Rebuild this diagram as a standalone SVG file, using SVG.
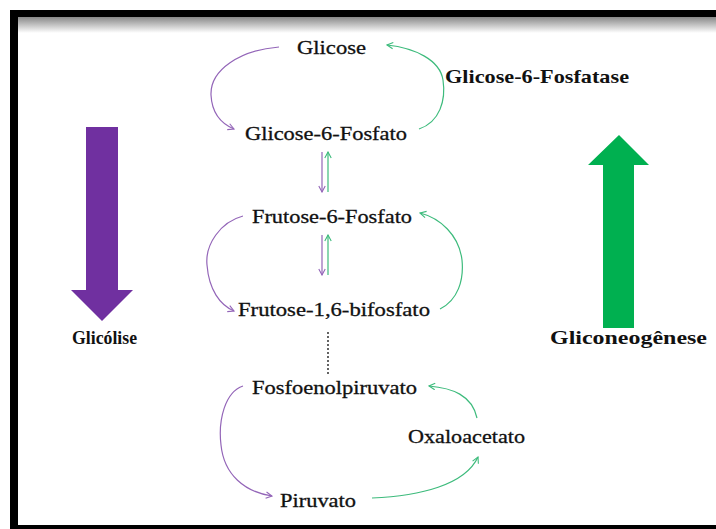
<svg xmlns="http://www.w3.org/2000/svg" width="716" height="529" viewBox="0 0 716 529">
  <defs>
    <linearGradient id="topShade" x1="0" y1="0" x2="0" y2="1">
      <stop offset="0" stop-color="#888888"/>
      <stop offset="1" stop-color="#ffffff"/>
    </linearGradient>
    <marker id="mp" viewBox="0 0 8 8" refX="7" refY="4" markerWidth="8" markerHeight="8" markerUnits="userSpaceOnUse" orient="auto">
      <path d="M1,0.8 L7,4 L1,7.2" fill="none" stroke="#9365b8" stroke-width="1.1"/>
    </marker>
    <marker id="mg" viewBox="0 0 8 8" refX="7" refY="4" markerWidth="8" markerHeight="8" markerUnits="userSpaceOnUse" orient="auto">
      <path d="M1,0.8 L7,4 L1,7.2" fill="none" stroke="#3dbb7c" stroke-width="1.1"/>
    </marker>
    <style>
      .t { font-size: 19px; fill: #111; stroke: #111; stroke-width: 0.3; }
      .b { font-size: 19px; font-weight: bold; fill: #111; }
      .p { fill: none; stroke: #9365b8; stroke-width: 1.2; marker-end: url(#mp); }
      .g { fill: none; stroke: #3dbb7c; stroke-width: 1.2; marker-end: url(#mg); }
    </style>
  </defs>

  <rect width="716" height="529" fill="#ffffff"/>
  <g id="frame">
    <rect x="18" y="17" width="698" height="16" fill="url(#topShade)"/>
    <rect x="10" y="10" width="706" height="7" fill="#000"/>
    <rect x="10" y="10" width="8" height="519" fill="#000"/>
    <rect x="10" y="525" width="706" height="4" fill="#000"/>
  </g>

  <g font-family="Liberation Serif, serif">
    <g id="glicolise-arrow">
      <path d="M86,127 L118,127 L118,290 L133,290 L102,321 L71,290 L86,290 Z" fill="#7030a0"/>
      <text class="b" x="72" y="344" font-size="18" textLength="65" lengthAdjust="spacingAndGlyphs">Glicólise</text>
    </g>
    <g id="gliconeogenese-arrow">
      <path d="M603,328 L634,328 L634,165 L649,165 L619,135 L588,165 L603,165 Z" fill="#00b050"/>
      <text class="b" x="550" y="344" textLength="157" lengthAdjust="spacingAndGlyphs">Gliconeogênese</text>
    </g>

    <g id="glicose"><text class="t" x="297" y="54" textLength="69" lengthAdjust="spacingAndGlyphs">Glicose</text></g>
    <g id="g6p"><text class="t" x="245" y="140" textLength="162" lengthAdjust="spacingAndGlyphs">Glicose-6-Fosfato</text></g>
    <g id="f6p"><text class="t" x="252" y="223" textLength="160" lengthAdjust="spacingAndGlyphs">Frutose-6-Fosfato</text></g>
    <g id="f16bp"><text class="t" x="238" y="316" textLength="192" lengthAdjust="spacingAndGlyphs">Frutose-1,6-bifosfato</text></g>
    <g id="pep"><text class="t" x="252" y="394" textLength="165" lengthAdjust="spacingAndGlyphs">Fosfoenolpiruvato</text></g>
    <g id="oxaloacetato"><text class="t" x="408" y="443" textLength="117" lengthAdjust="spacingAndGlyphs">Oxaloacetato</text></g>
    <g id="piruvato"><text class="t" x="280" y="507" textLength="76" lengthAdjust="spacingAndGlyphs">Piruvato</text></g>
    <g id="enzyme"><text class="b" x="445" y="83" textLength="184" lengthAdjust="spacingAndGlyphs">Glicose-6-Fosfatase</text></g>
  </g>

  <g id="connectors">
    <path class="p" d="M279,47 C240,50 210,70 211,95 C212,115 222,124 234,129"/>
    <path class="g" d="M419,129 C440,122 446,100 443,80 C440,60 415,48 387,45"/>
    <path class="p" d="M322,152 L322,192"/>
    <path class="g" d="M328,192 L328,152"/>
    <path class="p" d="M243,216 C220,222 205,245 207,265 C209,290 220,305 234,311"/>
    <path class="g" d="M440,309 C458,300 464,280 462,260 C459,235 440,218 420,213"/>
    <path class="p" d="M322,235 L322,275"/>
    <path class="g" d="M328,275 L328,235"/>
    <path d="M328,332 L328,376" fill="none" stroke="#111" stroke-width="1.3" stroke-dasharray="2,2"/>
    <path class="p" d="M243,386 C225,392 218,420 221,445 C224,475 245,492 272,496"/>
    <path class="g" d="M372,498 C420,496 465,485 478,457"/>
    <path class="g" d="M477,418 C472,395 452,388 429,386"/>
  </g>
</svg>
